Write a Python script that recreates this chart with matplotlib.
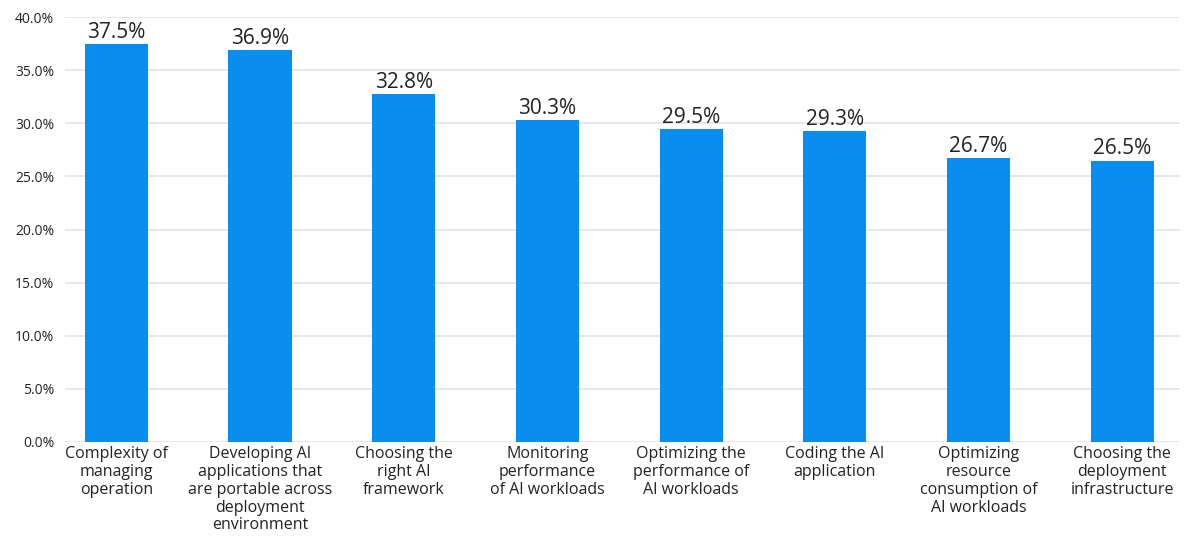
import matplotlib
matplotlib.use("Agg")
import matplotlib.pyplot as plt
from matplotlib.ticker import FuncFormatter

plt.rcParams["font.family"] = ["Open Sans", "DejaVu Sans"]

# data
categories = [
    "Complexity of\nmanaging\noperation",
    "Developing AI\napplications that\nare portable across\ndeployment\nenvironment",
    "Choosing the\nright AI\nframework",
    "Monitoring\nperformance\nof AI workloads",
    "Optimizing the\nperformance of\nAI workloads",
    "Coding the AI\napplication",
    "Optimizing\nresource\nconsumption of\nAI workloads",
    "Choosing the\ndeployment\ninfrastructure",
]
values = [37.5, 36.9, 32.8, 30.3, 29.5, 29.3, 26.7, 26.5]

BAR_COLOR = "#0A8DF0"

fig = plt.figure(figsize=(11.88, 5.37), dpi=100)
fig.set_facecolor("white")
ax = fig.add_axes([0.055, 0.177, 0.938, 0.791])

x = range(len(values))
bars = ax.bar(x, values, width=0.44, color=BAR_COLOR, zorder=3)

for b, v in zip(bars, values):
    ax.text(b.get_x() + b.get_width() / 2, v + 0.1, f"{v:.1f}%",
            ha="center", va="bottom", fontsize=15, color="#222222", zorder=4)

ax.set_ylim(0, 40)
ax.set_xlim(-0.355, 7.4)
ax.set_yticks(range(0, 41, 5))
ax.yaxis.set_major_formatter(FuncFormatter(lambda v, p: f"{v:.1f}%"))
ax.set_xticks(list(x))
ax.set_xticklabels(categories, fontsize=11.5, color="#222222", linespacing=1.15)
ax.tick_params(axis="y", labelsize=10, colors="#222222", length=0, pad=8)
ax.tick_params(axis="x", length=0, pad=3)

ax.grid(axis="y", color="#E3E3E3", linewidth=1.2, zorder=0)
for s in ax.spines.values():
    s.set_visible(False)

fig.savefig("out.png", dpi=100, facecolor="white")
